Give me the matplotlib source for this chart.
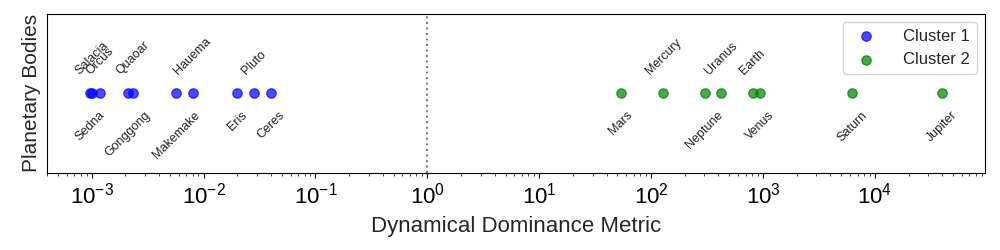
import matplotlib
matplotlib.use("Agg")
import matplotlib.pyplot as plt
import seaborn as sns

# dynamical dominance values
c1_names = ["Ceres", "Pluto", "Eris", "Hauema", "Makemake", "Sedna",
            "Orcus", "Quaoar", "Gonggong", "Salacia"]
c1_vals = [0.040, 0.028, 0.020, 0.0080, 0.0057, 0.00096,
           0.0012, 0.00235, 0.0021, 0.0010]
c1_up = [False, True, False, True, False, False, True, True, False, True]

c2_names = ["Mercury", "Venus", "Earth", "Mars", "Jupiter", "Saturn",
            "Uranus", "Neptune"]
c2_vals = [129, 947, 807, 54, 40100, 6250, 423, 301]
c2_up = [True, False, True, False, False, False, True, False]

x_ticks = [1e-3, 1e-2, 1e-1, 1e0, 1e1, 1e2, 1e3, 1e4]

sns.set_style("ticks")
plt.rcParams['font.family'] = ['Liberation Sans', 'DejaVu Sans']
plt.rcParams['mathtext.fontset'] = 'custom'
plt.rcParams['mathtext.rm'] = 'Liberation Sans'
plt.rcParams['mathtext.it'] = 'Liberation Sans:italic'
plt.rcParams['mathtext.bf'] = 'Liberation Sans:bold'

fig, ax = plt.subplots(figsize=(10, 2.5), dpi=100)

ax.scatter(c1_vals, [0] * len(c1_vals), color="blue", alpha=0.7, s=45, label="Cluster 1")
ax.scatter(c2_vals, [0] * len(c2_vals), color="green", alpha=0.7, s=45, label="Cluster 2")

for names, vals, ups in [(c1_names, c1_vals, c1_up), (c2_names, c2_vals, c2_up)]:
    for n, v, up in zip(names, vals, ups):
        if up:
            ax.text(v, 0.2, n, rotation=45, ha="center", va="bottom", fontsize=9, color="#222222")
        else:
            ax.text(v, -0.2, n, rotation=45, ha="center", va="top", fontsize=9, color="#222222")

ax.axvline(1, color="gray", linestyle=":", linewidth=1.5)
ax.set_xscale("log")
ax.set_xticks(x_ticks)
ax.set_ylim(-1, 1)
ax.set_yticks([])
ax.tick_params(axis="x", labelsize=16, colors="black")
for s in ax.spines.values():
    s.set_color("black")
ax.set_xlabel("Dynamical Dominance Metric", fontsize=16, labelpad=6)
ax.set_ylabel("Planetary Bodies", fontsize=15)
ax.legend(loc="upper right", fontsize=12, handletextpad=1.2)

plt.subplots_adjust(left=0.047, right=0.985, top=0.945, bottom=0.31)
plt.savefig("out.png")
